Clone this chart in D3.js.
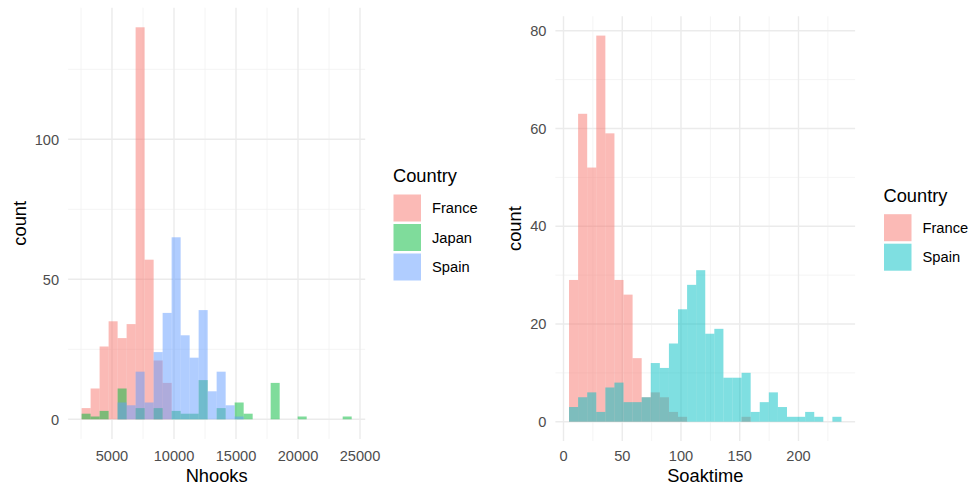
<!DOCTYPE html>
<html>
<head>
<meta charset="utf-8">
<script src="https://cdn.jsdelivr.net/npm/d3@7"></script>
<style>
  body { margin: 0; background: #fff; }
  text { font-family: "Liberation Sans", Arial, sans-serif; }
</style>
</head>
<body>
<svg id="chart" width="974" height="493"></svg>
<script>
// Nhooks histogram, 30 bins
const nhooksBinStart = 2550;
const nhooksBinWidth = 726;
const nhooksFrance = [4, 11, 26, 35, 29, 34, 140, 57, 21, 13, 0, 0, 0, 0, 0, 0, 0, 0, 0, 0, 0, 0, 0, 0, 0, 0, 0, 0, 0, 0];
const nhooksJapan  = [2, 1, 3, 0, 11, 0, 4, 0, 4, 0, 3, 2, 2, 14, 0, 4, 0, 6, 2, 0, 0, 13, 0, 0, 1, 0, 0, 0, 0, 1];
const nhooksSpain  = [0, 0, 0, 0, 6, 5, 17, 6, 24, 38, 65, 30, 22, 39, 10, 17, 5, 1, 0, 0, 0, 0, 0, 0, 0, 0, 0, 0, 0, 0];
const nhooksCountries = ["France", "Japan", "Spain"];
const nhooksXTicks = [5000, 10000, 15000, 20000, 25000];
const nhooksXMinor = [2500, 7500, 12500, 17500, 22500];
const nhooksYTicks = [0, 50, 100];
const nhooksYMinor = [25, 75, 125];

// Soaktime histogram, 30 bins
const soakBinStart = 4.7;
const soakBinWidth = 7.73;
const soakFrance = [29, 63, 52, 79, 59, 29, 26, 13, 5, 6, 5, 2, 1, 0, 0, 0, 0, 0, 0, 1, 0, 0, 0, 0, 0, 0, 0, 0, 0, 0];
const soakSpain  = [3, 5, 6, 2, 7, 8, 4, 4, 5, 12, 11, 16, 23, 28, 31, 18, 19, 9, 9, 10, 2, 4, 6, 3, 1, 1, 2, 1, 0, 1];
const soakCountries = ["France", "Spain"];
const soakXTicks = [0, 50, 100, 150, 200];
const soakXMinor = [25, 75, 125, 175, 225];
const soakYTicks = [0, 20, 40, 60, 80];
const soakYMinor = [10, 30, 50, 70];

const colors = { France: "#F8766D", Japan: "#00BA38", Spain: "#619CFF" };
const colors2 = { France: "#F8766D", Spain: "#00BFC4" };

const svg = d3.select("#chart");

function drawPanel(cfg) {
  const nb = cfg.series[0].length;
  const x0 = cfg.binStart, x1 = cfg.binStart + nb * cfg.binWidth;
  const xpad = (x1 - x0) * 0.05;
  const ymax = d3.max(cfg.series.flat());
  const x = d3.scaleLinear().domain([x0 - xpad, x1 + xpad]).range([cfg.box.left, cfg.box.right]);
  const y = d3.scaleLinear().domain([-ymax * 0.05, ymax * 1.05]).range([cfg.box.bottom, cfg.box.top]);

  const g = svg.append("g");

  // grid
  g.selectAll(".vminor").data(cfg.xMinor).join("line")
    .attr("x1", d => x(d)).attr("x2", d => x(d))
    .attr("y1", cfg.box.top).attr("y2", cfg.box.bottom)
    .attr("stroke", "#F1F1F1").attr("stroke-width", 0.8);
  g.selectAll(".hminor").data(cfg.yMinor).join("line")
    .attr("y1", d => y(d)).attr("y2", d => y(d))
    .attr("x1", cfg.box.left).attr("x2", cfg.box.right)
    .attr("stroke", "#F1F1F1").attr("stroke-width", 0.8);
  g.selectAll(".vmajor").data(cfg.xTicks).join("line")
    .attr("x1", d => x(d)).attr("x2", d => x(d))
    .attr("y1", cfg.box.top).attr("y2", cfg.box.bottom)
    .attr("stroke", "#EBEBEB").attr("stroke-width", 1.4);
  g.selectAll(".hmajor").data(cfg.yTicks).join("line")
    .attr("y1", d => y(d)).attr("y2", d => y(d))
    .attr("x1", cfg.box.left).attr("x2", cfg.box.right)
    .attr("stroke", "#EBEBEB").attr("stroke-width", 1.4);

  // bars
  cfg.series.forEach((counts, k) => {
    const bins = counts.map((c, i) => ({ c, a: cfg.binStart + i * cfg.binWidth, b: cfg.binStart + (i + 1) * cfg.binWidth }))
      .filter(d => d.c > 0);
    g.append("g").selectAll("rect").data(bins).join("rect")
      .attr("x", d => x(d.a))
      .attr("width", d => x(d.b) - x(d.a))
      .attr("y", d => y(d.c))
      .attr("height", d => y(0) - y(d.c))
      .attr("fill", cfg.colors[cfg.names[k]])
      .attr("fill-opacity", 0.5);
  });

  // tick labels
  g.selectAll(".xl").data(cfg.xTicks).join("text")
    .attr("x", d => x(d)).attr("y", 460.5)
    .attr("text-anchor", "middle").attr("font-size", 14.6).attr("fill", "#4D4D4D")
    .text(d => d);
  g.selectAll(".yl").data(cfg.yTicks).join("text")
    .attr("x", cfg.box.left - 9).attr("y", d => y(d)).attr("dy", "0.36em")
    .attr("text-anchor", "end").attr("font-size", 14.6).attr("fill", "#4D4D4D")
    .text(d => d);

  // axis titles
  g.append("text")
    .attr("x", (cfg.box.left + cfg.box.right) / 2).attr("y", 481.5)
    .attr("text-anchor", "middle").attr("font-size", 18.3).attr("fill", "#000")
    .text(cfg.xTitle);
  g.append("text")
    .attr("transform", `translate(${cfg.yTitleX},${(cfg.box.top + cfg.box.bottom) / 2}) rotate(-90)`)
    .attr("text-anchor", "middle").attr("font-size", 18.3).attr("fill", "#000")
    .text("count");

  // legend
  const lg = svg.append("g").attr("transform", `translate(${cfg.legend.x},${cfg.legend.y})`);
  lg.append("text").attr("x", 0).attr("y", 0).attr("font-size", 18.3).attr("fill", "#000").text("Country");
  const items = lg.selectAll(".item").data(cfg.names).join("g")
    .attr("transform", (d, i) => `translate(0,${12.5 + i * 29.5})`);
  items.append("rect")
    .attr("x", 0.5).attr("y", 0).attr("width", 27.5).attr("height", 27)
    .attr("fill", d => cfg.colors[d]).attr("fill-opacity", 0.5);
  items.append("text")
    .attr("x", 39).attr("y", 13.5).attr("dy", "0.36em")
    .attr("font-size", 14.7).attr("fill", "#000")
    .text(d => d);
}

drawPanel({
  box: { left: 68.1, right: 365.2, top: 7.7, bottom: 438.9 },
  binStart: nhooksBinStart, binWidth: nhooksBinWidth,
  series: [nhooksFrance, nhooksJapan, nhooksSpain],
  names: nhooksCountries, colors: colors,
  xTicks: nhooksXTicks, xMinor: nhooksXMinor,
  yTicks: nhooksYTicks, yMinor: nhooksYMinor,
  xTitle: "Nhooks", yTitleX: 25.5,
  legend: { x: 393, y: 182 }
});

drawPanel({
  box: { left: 555.4, right: 855.1, top: 16.3, bottom: 441 },
  binStart: soakBinStart, binWidth: soakBinWidth,
  series: [soakFrance, soakSpain],
  names: soakCountries, colors: colors2,
  xTicks: soakXTicks, xMinor: soakXMinor,
  yTicks: soakYTicks, yMinor: soakYMinor,
  xTitle: "Soaktime", yTitleX: 521,
  legend: { x: 883.5, y: 201.7 }
});
</script>
</body>
</html>
